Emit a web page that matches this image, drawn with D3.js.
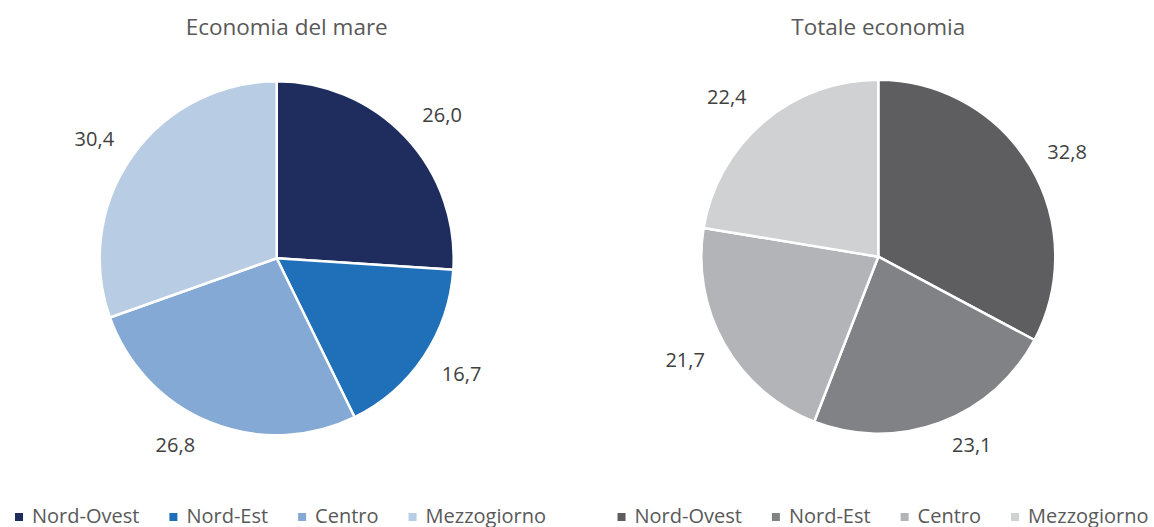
<!DOCTYPE html>
<html>
<head>
<meta charset="utf-8">
<script src="https://cdn.jsdelivr.net/npm/d3@7/dist/d3.min.js"></script>
<style>
  html, body { margin: 0; padding: 0; background: #ffffff; }
  svg { display: block; font-family: "Open Sans", sans-serif; }
</style>
</head>
<body>
<div id="chart"></div>
<script>
// data
const regions = ["Nord-Ovest", "Nord-Est", "Centro", "Mezzogiorno"];
const valuesMare = [26.0, 16.7, 26.8, 30.4];
const valuesTotale = [32.8, 23.1, 21.7, 22.4];
const titles = ["Economia del mare", "Totale economia"];

// colours
const coloursMare = ["#1f2d5e", "#1f70b8", "#84a9d4", "#b8cce4"];
const coloursTotale = ["#5e5e61", "#818286", "#b3b4b7", "#d0d1d3"];

// label layout: distance of label centre from pie centre, and nudge (deg) off the mid angle
const labelDistMare = [219, 218, 212, 218];
const labelNudgeMare = [2.2, -1.8, 6.4, -2.0];
const labelDistTotale = [216, 210, 219, 220];
const labelNudgeTotale = [1.9, -6.1, 1.6, -3.2];

const width = 1154, height = 527;
const radius = 177;
const fmt = d3.formatLocale({decimal: ",", thousands: ".", grouping: [3], currency: ["", "€"]}).format(".1f");

const svg = d3.select("#chart").append("svg")
    .attr("width", width)
    .attr("height", height);

const charts = [
    {values: valuesMare, colours: coloursMare, dist: labelDistMare, nudge: labelNudgeMare,
     title: titles[0], cx: 276.7, cy: 258.3, titleX: 286.7, legendX: 280.5},
    {values: valuesTotale, colours: coloursTotale, dist: labelDistTotale, nudge: labelNudgeTotale,
     title: titles[1], cx: 878.3, cy: 256.7, titleX: 878.3, legendX: 883}
];

const pie = d3.pie().sort(null).value(d => d);
const arc = d3.arc().innerRadius(0).outerRadius(radius);

charts.forEach(function (c) {
    // title
    svg.append("text")
        .attr("x", c.titleX)
        .attr("y", 35)
        .attr("text-anchor", "middle")
        .attr("fill", "#595959")
        .attr("font-size", "22.5px")
        .text(c.title);

    let g = svg.append("g")
        .attr("transform", "translate(" + c.cx + "," + c.cy + ")");

    let arcs = pie(c.values);

    g.selectAll("path")
        .data(arcs)
        .enter().append("path")
        .attr("d", arc)
        .attr("fill", (d, i) => c.colours[i])
        .attr("stroke", "#ffffff")
        .attr("stroke-width", 2.5)
        .attr("stroke-linejoin", "round");

    // data labels outside the slices
    g.selectAll("text.lbl")
        .data(arcs)
        .enter().append("text")
        .attr("class", "lbl")
        .attr("text-anchor", "middle")
        .attr("fill", "#404040")
        .attr("font-size", "20px")
        .attr("x", function (d, i) {
            let a = (d.startAngle + d.endAngle) / 2 + c.nudge[i] * Math.PI / 180;
            return Math.sin(a) * c.dist[i];
        })
        .attr("y", function (d, i) {
            let a = (d.startAngle + d.endAngle) / 2 + c.nudge[i] * Math.PI / 180;
            return -Math.cos(a) * c.dist[i] + 7.2;
        })
        .text(d => fmt(d.data));

    // legend
    let lg = svg.append("g");
    let x = 0;
    regions.forEach(function (name, i) {
        lg.append("rect")
            .attr("x", x)
            .attr("y", 513)
            .attr("width", 8)
            .attr("height", 8)
            .attr("fill", c.colours[i]);
        let t = lg.append("text")
            .attr("x", x + 17)
            .attr("y", 522.5)
            .attr("fill", "#595959")
            .attr("font-size", "20px")
            .text(name);
        x += 17 + t.node().getComputedTextLength() + 30;
    });
    let total = x - 30;
    lg.attr("transform", "translate(" + (c.legendX - total / 2) + ",0)");
});
</script>
</body>
</html>
